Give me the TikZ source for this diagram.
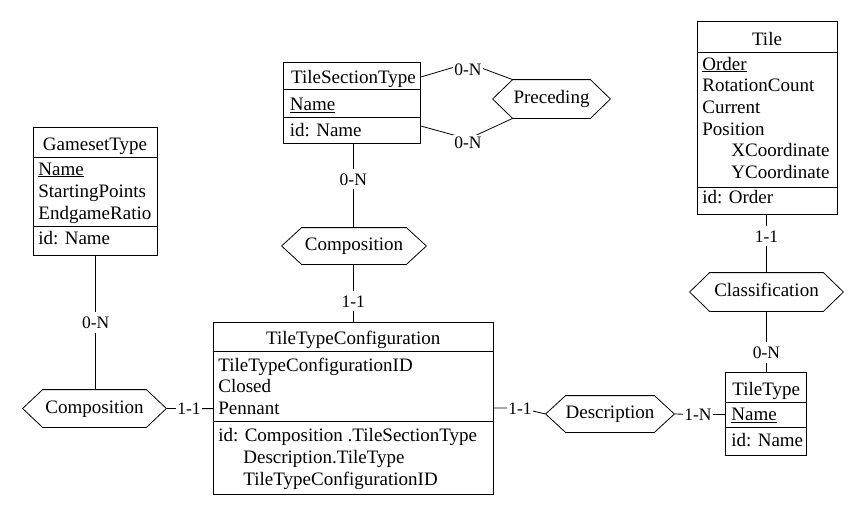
\documentclass[tikz,border=0pt]{standalone}
\usepackage{fontspec}
\setmainfont{Liberation Serif}
\newcommand\relhex[6]{%
  \node[rel, minimum width=#5pt, minimum height=#6pt] (#1) at (#2,#3) {#4};
  \draw ([xshift=20pt]#1.north west) -- ([xshift=-20pt]#1.north east) -- (#1.east)
     -- ([xshift=-20pt]#1.south east) -- ([xshift=20pt]#1.south west) -- (#1.west) -- cycle;}
\begin{document}
\begin{tikzpicture}[x=1pt,y=-1pt, line width=0.8pt,
  ent/.style={draw, rectangle, inner sep=0pt},
  txt/.style={anchor=base west, inner sep=0pt, font=\fontsize{19}{22}\selectfont},
  ttl/.style={anchor=base, inner sep=0pt, font=\fontsize{19}{22}\selectfont},
  rel/.style={rectangle, inner sep=0pt, text height=13pt, text depth=4pt, font=\fontsize{19}{22}\selectfont},
  card/.style={inner xsep=1pt, inner ysep=4pt, text height=12pt, text depth=0pt, font=\fontsize{17.5}{20}\selectfont},
  cardw/.style={card, fill=white, inner ysep=1pt},
]
\useasboundingbox (0,0) rectangle (864,515);

% ---------- GamesetType ----------
\node[ent, minimum width=124pt, minimum height=127.7pt] (gst) at (95,191.2) {};
\draw (gst.west |- 0,157.3) -- (gst.east |- 0,157.3);
\draw (gst.west |- 0,226.7) -- (gst.east |- 0,226.7);
\node[ttl] (gstT) at (95,150) {GamesetType};
\node[txt] (gstA) at (38,175) {\underline{Name}};
\node[txt] (gstB) at (38,197) {StartingPoints};
\node[txt] (gstC) at (38,219) {EndgameRatio};
\node[txt] (gstI) at (38,244) {id: Name};

% ---------- TileSectionType ----------
\node[ent, minimum width=137pt, minimum height=81pt] (tst) at (352,102.5) {};
\draw (tst.west |- 0,89) -- (tst.east |- 0,89);
\draw (tst.west |- 0,117) -- (tst.east |- 0,117);
\node[ttl] (tstT) at (353.5,83.3) {TileSectionType};
\node[txt] (tstA) at (289.5,110.5) {\underline{Name}};
\node[txt] (tstI) at (289.5,136.5) {id: Name};

% ---------- Tile ----------
\node[ent, minimum width=140pt, minimum height=192.6pt] (tile) at (767,118) {};
\draw (tile.west |- 0,52.3) -- (tile.east |- 0,52.3);
\draw (tile.west |- 0,187.7) -- (tile.east |- 0,187.7);
\node[ttl] (tileT) at (767,45) {Tile};
\node[txt] (tileA) at (702,70) {\underline{Order}};
\node[txt] (tileB) at (702,91.7) {RotationCount};
\node[txt] (tileC) at (702,113.4) {Current};
\node[txt] (tileD) at (702,135.1) {Position};
\node[txt] (tileE) at (731,156.8) {XCoordinate};
\node[txt] (tileF) at (731,178.5) {YCoordinate};
\node[txt] (tileI) at (702,203) {id: Order};

% ---------- TileTypeConfiguration ----------
\node[ent, minimum width=280pt, minimum height=171.3pt] (ttc) at (353.3,408.3) {};
\draw (ttc.west |- 0,351.7) -- (ttc.east |- 0,351.7);
\draw (ttc.west |- 0,421) -- (ttc.east |- 0,421);
\node[ttl] (ttcT) at (353.3,344.5) {TileTypeConfiguration};
\node[txt] (ttcA) at (218,371.7) {TileTypeConfigurationID};
\node[txt] (ttcB) at (218,392.8) {Closed};
\node[txt] (ttcC) at (218,414) {Pennant};
\node[txt] (ttcI) at (218,441.7) {id: Composition .TileSectionType};
\node[txt] (ttcJ) at (243,463.3) {Description.TileType};
\node[txt] (ttcK) at (243,485) {TileTypeConfigurationID};

% ---------- TileType ----------
\node[ent, minimum width=80.7pt, minimum height=82.3pt] (tt) at (765.7,413.8) {};
\draw (tt.west |- 0,402.7) -- (tt.east |- 0,402.7);
\draw (tt.west |- 0,427.7) -- (tt.east |- 0,427.7);
\node[ttl] (ttT) at (766.3,395) {TileType};
\node[txt] (ttA) at (731,420.5) {\underline{Name}};
\node[txt] (ttI) at (731,446) {id: Name};

% ---------- relationships ----------
\relhex{pre}{551.5}{99}{Preceding}{117}{38}
\relhex{cmpT}{354}{246}{Composition}{144}{36}
\relhex{cmpL}{94.5}{408.5}{Composition}{143}{37}
\relhex{cls}{766.5}{292}{Classification}{153}{38}
\relhex{desc}{610}{414}{Description}{128}{36}

% ---------- connectors ----------
\coordinate (bA) at (468,63);
\coordinate (bB) at (468,139);
\draw (tst.east |- 0,77) -- (bA) -- ([xshift=20pt]pre.north west);
\draw (tst.east |- 0,126) -- (bB) -- ([xshift=20pt]pre.south west);
\node[cardw] (kA) at (468,69) {0-N};
\node[cardw] (kB) at (468,142) {0-N};

\node[card] (k1) at (353.3,179) {0-N};
\draw (tst.south -| k1) -- (k1) -- (cmpT.north -| k1);
\node[card] (k2) at (353.3,301) {1-1};
\draw (cmpT.south -| k2) -- (k2) -- (ttc.north -| k2);

\node[card] (k3) at (95.7,322.5) {0-N};
\draw (gst.south -| k3) -- (k3) -- (cmpL.north -| k3);
\node[card] (k4) at (189,408.6) {1-1};
\draw (cmpL.east) -- (k4) -- (ttc.west |- k4);

\node[card] (k5) at (520,408) {1-1};
\draw (ttc.east |- k5) -- (k5) -- (desc.west);
\node[card] (k6) at (698,414.5) {1-N};
\draw (desc.east) -- (k6) -- (tt.west |- k6);

\node[card] (k7) at (766.5,236) {1-1};
\draw (tile.south -| k7) -- (k7) -- (cls.north -| k7);
\node[card] (k8) at (766.5,352.5) {0-N};
\draw (cls.south -| k8) -- (k8) -- (tt.north -| k8);
\end{tikzpicture}
\end{document}
